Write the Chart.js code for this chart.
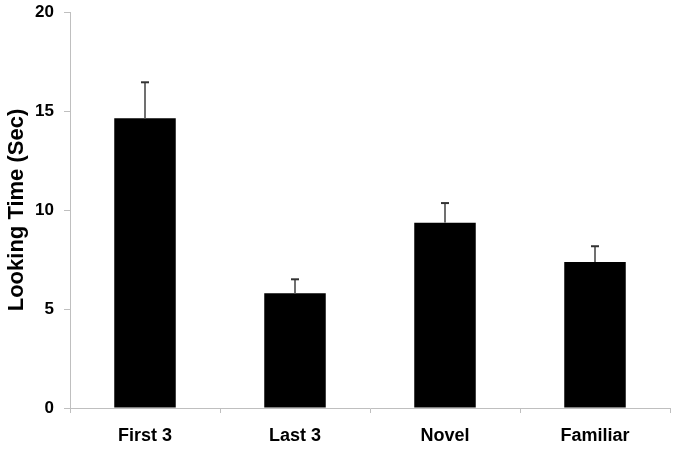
<!DOCTYPE html>
<html>
<head>
<meta charset="utf-8">
<script src="https://cdn.jsdelivr.net/npm/chart.js@4/dist/chart.umd.min.js"></script>
<style>
  html, body { margin: 0; padding: 0; background: #fff; }
  #wrap { width: 679px; height: 452px; }
</style>
</head>
<body>
<div id="wrap"><canvas id="chart"></canvas></div>
<script>
const categories = ['First 3', 'Last 3', 'Novel', 'Familiar'];
const lookingTime = [14.63, 5.79, 9.36, 7.37];
const errorUp = [1.82, 0.71, 0.99, 0.80];
const yTicks = [0, 5, 10, 15, 20];

const axisGray = '#bfbfbf';

// upper-only error bars, drawn from the bar top through the y scale
const errorBars = {
  id: 'errorBars',
  afterDatasetsDraw(chart) {
    const { ctx, scales: { y } } = chart;
    const meta = chart.getDatasetMeta(0);
    ctx.save();
    meta.data.forEach((bar, i) => {
      const x = Math.round(bar.x);
      const top = y.getPixelForValue(lookingTime[i]);
      const end = y.getPixelForValue(lookingTime[i] + errorUp[i]);
      ctx.strokeStyle = '#707070';
      ctx.lineWidth = 2;
      ctx.beginPath();
      ctx.moveTo(x, top);
      ctx.lineTo(x, end);
      ctx.stroke();
      ctx.strokeStyle = '#333';
      ctx.beginPath();
      ctx.moveTo(x - 4, end);
      ctx.lineTo(x + 4, end);
      ctx.stroke();
    });
    ctx.restore();
  },
};

new Chart(document.getElementById('chart'), {
  type: 'bar',
  data: {
    labels: categories,
    datasets: [{
      data: lookingTime,
      backgroundColor: '#000',
      borderWidth: 0,
      barPercentage: 0.41,
      categoryPercentage: 1,
    }],
  },
  options: {
    responsive: true,
    maintainAspectRatio: false,
    animation: false,
    events: [],
    layout: { padding: { top: 12, right: 9, left: 0, bottom: 0 } },
    plugins: {
      legend: { display: false },
      tooltip: { enabled: false },
    },
    scales: {
      y: {
        min: 0,
        max: 20,
        afterBuildTicks: (scale) => { scale.ticks = yTicks.map((v) => ({ value: v })); },
        afterFit: (scale) => {
          scale.width = 70;
          scale.paddingTop = 0;
          scale.paddingBottom = 0;
        },
        border: { display: true, color: axisGray, width: 1 },
        grid: { drawOnChartArea: false, drawTicks: true, tickLength: 6, color: axisGray },
        ticks: {
          color: '#000',
          padding: 10,
          font: { family: 'Liberation Sans, Arial, sans-serif', size: 17, weight: 'bold' },
        },
        title: {
          display: true,
          text: 'Looking Time (Sec)',
          color: '#000',
          padding: { top: 4, bottom: 0 },
          font: { family: 'Liberation Sans, Arial, sans-serif', size: 22, weight: 'bold' },
        },
      },
      x: {
        afterFit: (scale) => {
          scale.height = 44;
          scale.paddingLeft = 0;
          scale.paddingRight = 0;
        },
        border: { display: true, color: axisGray, width: 1 },
        grid: { offset: true, drawOnChartArea: false, drawTicks: true, tickLength: 5, color: axisGray },
        ticks: {
          color: '#000',
          padding: 12,
          font: { family: 'Liberation Sans, Arial, sans-serif', size: 18, weight: 'bold' },
        },
      },
    },
  },
  plugins: [errorBars],
});
</script>
</body>
</html>
